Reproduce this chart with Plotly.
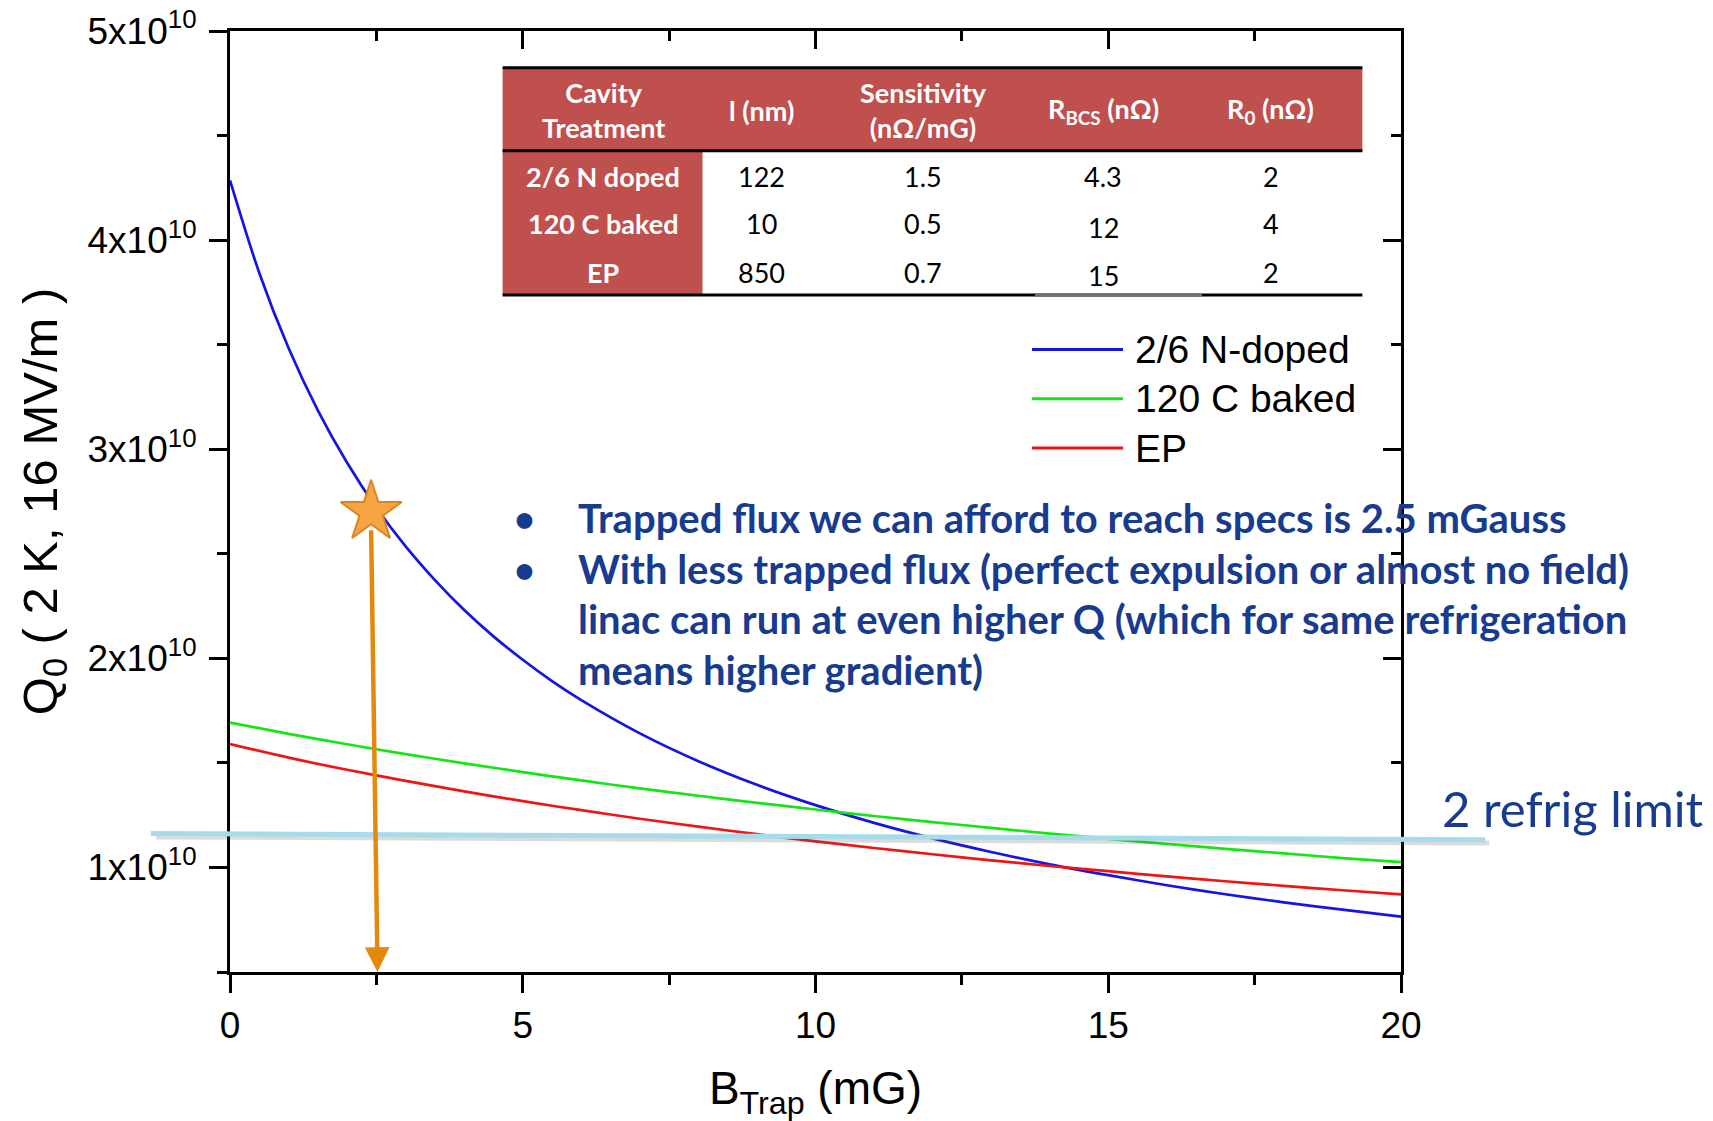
import plotly.graph_objects as go

# ---------------- data ----------------
B_blue = [0, 0.5, 1, 1.5, 2, 2.5, 3, 3.5, 4, 4.5, 5, 5.5, 6, 7, 8, 9, 10,
          11, 12, 13, 14, 15, 16, 17, 18, 19, 20]
B_mG = list(range(0, 21))  # trapped field (mG)
# Q0 values, in units of 1e10
q_ndoped = [4.286, 3.843, 3.484, 3.186, 2.935, 2.720, 2.535, 2.374, 2.231, 2.105,
            1.993, 1.891, 1.800, 1.641, 1.508, 1.395, 1.298, 1.213, 1.139, 1.074,
            1.015, 0.963, 0.915, 0.872, 0.833, 0.798, 0.765]
q_baked = [1.693, 1.639, 1.589, 1.542, 1.498, 1.456, 1.416, 1.378, 1.343, 1.309,
           1.277, 1.246, 1.217, 1.189, 1.162, 1.137, 1.112, 1.089, 1.067, 1.045, 1.025]
q_ep = [1.590, 1.525, 1.467, 1.414, 1.364, 1.317, 1.274, 1.233, 1.195, 1.159,
        1.125, 1.093, 1.063, 1.034, 1.007, 0.982, 0.957, 0.934, 0.912, 0.891, 0.871]
series_names = ["2/6 N-doped", "120 C baked", "EP"]
series_colors = ["#1414e6", "#14e614", "#f01414"]

refrig_limit = [1.162, 1.133]          # 2 refrig limit (x1e10), left / right end
star_point = (2.41, 2.70)              # operating point (mG, x1e10)
arrow_tip = (2.52, 0.5)                # arrow down to B axis

y_tickvals = [1, 2, 3, 4, 5]
y_ticktext = ["1x10<sup>10</sup>", "2x10<sup>10</sup>", "3x10<sup>10</sup>",
              "4x10<sup>10</sup>", "5x10<sup>10</sup>"]
x_tickvals = [0, 5, 10, 15, 20]

# table content
tbl_headers = ["Cavity<br>Treatment", "l (nm)", "Sensitivity<br>(nΩ/mG)",
               "R<sub>BCS</sub> (nΩ)", "R<sub>0</sub> (nΩ)"]
tbl_treatment = ["2/6 N doped", "120 C baked", "EP"]
tbl_l_nm = ["122", "10", "850"]
tbl_sensitivity = ["1.5", "0.5", "0.7"]
tbl_rbcs = ["4.3", "12", "15"]
tbl_r0 = ["2", "4", "2"]

bullets = ["Trapped flux we can afford to reach specs is 2.5 mGauss",
           "With less trapped flux (perfect expulsion or almost no field)",
           "linac can run at even higher Q (which for same refrigeration",
           "means higher gradient)"]
bullet_marks = [True, True, False, False]

E10 = 1e10

# ---------------- geometry helpers ----------------
W, H = 1713, 1121
ML, MR, MT, MB = 230, 312, 31, 149
PW, PH = W - ML - MR, H - MT - MB


def px(x):
    return (x - ML) / PW


def py(y):
    return (H - MB - y) / PH


ARIAL = "Liberation Sans, Arial, sans-serif"
CAL = "Lato, Open Sans, sans-serif"
BLUE_TXT = "#173b8e"
RED_BG = "#c0504d"

fig = go.Figure()

for name, xs, vals, col in zip(series_names, [B_blue, B_mG, B_mG],
                               [q_ndoped, q_baked, q_ep], series_colors):
    fig.add_trace(go.Scatter(
        x=xs, y=[v * E10 for v in vals], mode="lines", name=name,
        line=dict(color=col, width=2.7, shape="spline", smoothing=0.8),
        showlegend=False))

# star marker
fig.add_trace(go.Scatter(
    x=[star_point[0]], y=[star_point[1] * E10], mode="markers", showlegend=False,
    marker=dict(symbol="star", size=46, color="#f7a443",
                line=dict(color="#dc8420", width=2))))

# dummy trace for mirrored axes
fig.add_trace(go.Scatter(x=[0], y=[E10], xaxis="x2", yaxis="y2", mode="markers",
                         marker=dict(opacity=0), showlegend=False, hoverinfo="skip"))

axis_common = dict(showline=True, linewidth=3, linecolor="black", showgrid=False,
                   zeroline=False, tickwidth=3, tickcolor="black", automargin=False)

fig.update_layout(
    width=W, height=H, margin=dict(l=ML, r=MR, t=MT, b=MB, autoexpand=False),
    paper_bgcolor="white", plot_bgcolor="white",
    xaxis=dict(range=[0, 20], tickmode="array", tickvals=x_tickvals,
               ticks="outside", ticklen=18,
               minor=dict(tickmode="linear", tick0=0, dtick=2.5, ticks="outside",
                          ticklen=10, tickwidth=3, tickcolor="black"),
               tickfont=dict(family=ARIAL, size=37, color="black"),
               ticklabelstandoff=1,
               title=dict(text="B<sub>Trap</sub> (mG)",
                          font=dict(family=ARIAL, size=46, color="black"),
                          standoff=27),
               **axis_common),
    yaxis=dict(range=[0.5 * E10, 5 * E10], tickmode="array",
               tickvals=[v * E10 for v in y_tickvals], ticktext=y_ticktext,
               ticks="outside", ticklen=18,
               minor=dict(tickmode="linear", tick0=0, dtick=0.5 * E10,
                          ticks="outside", ticklen=10, tickwidth=3, tickcolor="black"),
               tickfont=dict(family=ARIAL, size=37, color="black"),
               ticklabelstandoff=5,
               title=dict(text="Q<sub>0</sub> ( 2 K, 16 MV/m )",
                          font=dict(family=ARIAL, size=49, color="black"),
                          standoff=15),
               **axis_common),
    xaxis2=dict(range=[0, 20], overlaying="x", side="top", anchor="y",
                tickmode="array", tickvals=x_tickvals, ticks="inside", ticklen=18,
                showticklabels=False,
                minor=dict(tickmode="linear", tick0=0, dtick=2.5, ticks="inside",
                           ticklen=10, tickwidth=3, tickcolor="black"),
                **axis_common),
    yaxis2=dict(range=[0.5 * E10, 5 * E10], overlaying="y", side="right", anchor="x",
                tickmode="array", tickvals=[v * E10 for v in y_tickvals],
                ticks="inside", ticklen=18, showticklabels=False,
                minor=dict(tickmode="linear", tick0=0, dtick=0.5 * E10,
                           ticks="inside", ticklen=10, tickwidth=3, tickcolor="black"),
                **axis_common),
)

shapes = []
# refrigeration limit line with a soft shadow
shapes.append(dict(type="line", xref="paper", yref="y", x0=px(156), x1=px(1489),
                   y0=refrig_limit[0] * E10 - 0.016 * E10,
                   y1=refrig_limit[1] * E10 - 0.016 * E10,
                   line=dict(color="rgba(90,90,90,0.22)", width=5), layer="above"))
shapes.append(dict(type="line", xref="paper", yref="y", x0=px(151), x1=px(1485),
                   y0=refrig_limit[0] * E10, y1=refrig_limit[1] * E10,
                   line=dict(color="#a6dbea", width=5), layer="above"))

# table backgrounds
TX0, TX1, TC1 = 502.6, 1362.4, 702.5
TY0, TYH, TY1 = 67.7, 150.8, 295.0
shapes.append(dict(type="rect", xref="paper", yref="paper", x0=px(TX0), x1=px(TX1),
                   y0=py(TY1), y1=py(TY0), fillcolor="white", line=dict(width=0),
                   layer="above"))
shapes.append(dict(type="rect", xref="paper", yref="paper", x0=px(TX0), x1=px(TX1),
                   y0=py(TYH), y1=py(TY0), fillcolor=RED_BG, line=dict(width=0),
                   layer="above"))
shapes.append(dict(type="rect", xref="paper", yref="paper", x0=px(TX0), x1=px(TC1),
                   y0=py(TY1), y1=py(TYH), fillcolor=RED_BG, line=dict(width=0),
                   layer="above"))
for yy in [TY0, TYH, TY1]:
    shapes.append(dict(type="line", xref="paper", yref="paper", x0=px(TX0), x1=px(TX1),
                       y0=py(yy), y1=py(yy), line=dict(color="black", width=3),
                       layer="above"))
shapes.append(dict(type="line", xref="paper", yref="paper", x0=px(1035), x1=px(1202),
                   y0=py(TY1), y1=py(TY1), line=dict(color="#707070", width=3),
                   layer="above"))

# manual legend lines
leg_y = [349.5, 398.8, 448.0]
for yy, col in zip(leg_y, series_colors):
    shapes.append(dict(type="line", xref="paper", yref="paper", x0=px(1032), x1=px(1123),
                       y0=py(yy), y1=py(yy), line=dict(color=col, width=3),
                       layer="above"))

fig.update_layout(shapes=shapes)

ann = []
# legend texts
for yy, name in zip(leg_y, series_names):
    ann.append(dict(xref="paper", yref="paper", x=px(1133), y=py(yy), text=name,
                    showarrow=False, xanchor="left", yanchor="middle",
                    font=dict(family=ARIAL, size=39, color="black")))

# table texts
col_x = [603, 761.5, 923, 1103.4, 1270.6]
for cx, h in zip(col_x, tbl_headers):
    ann.append(dict(xref="paper", yref="paper", x=px(cx), y=py(110), text="<b>" + h + "</b>",
                    showarrow=False, xanchor="center", yanchor="middle",
                    font=dict(family=CAL, size=27, color="white")))
row_y = [176, 224, 272]
for i, ry in enumerate(row_y):
    ann.append(dict(xref="paper", yref="paper", x=px(col_x[0]), y=py(ry),
                    text="<b>" + tbl_treatment[i] + "</b>", showarrow=False,
                    xanchor="center", yanchor="middle",
                    font=dict(family=CAL, size=27, color="white")))
    for j, col_vals in enumerate([tbl_l_nm, tbl_sensitivity, tbl_rbcs, tbl_r0]):
        off = 3 if (j == 2 and i > 0) else 0
        ann.append(dict(xref="paper", yref="paper", x=px(col_x[j + 1]), y=py(ry + off),
                        text=col_vals[i], showarrow=False, xanchor="center",
                        yanchor="middle",
                        font=dict(family=CAL, size=27, color="black")))

# bullet text
line_y = [518, 569, 619, 670]
for yy, txt, mark in zip(line_y, bullets, bullet_marks):
    if mark:
        ann.append(dict(xref="paper", yref="paper", x=px(524), y=py(yy), text="<b>•</b>",
                        showarrow=False, xanchor="center", yanchor="middle",
                        font=dict(family=CAL, size=36, color=BLUE_TXT)))
    ann.append(dict(xref="paper", yref="paper", x=px(576), y=py(yy), text="<b>" + txt + "</b>",
                    showarrow=False, xanchor="left", yanchor="middle",
                    font=dict(family=CAL, size=40, color=BLUE_TXT)))

# refrig limit label
ann.append(dict(xref="paper", yref="paper", x=px(1440), y=py(808), text="2 refrig limit",
                showarrow=False, xanchor="left", yanchor="middle",
                font=dict(family=CAL, size=49, color=BLUE_TXT)))

# arrow from the star down to the B axis
ann.append(dict(x=arrow_tip[0], y=arrow_tip[1] * E10, xref="x", yref="y",
                ax=star_point[0], ay=(star_point[1] - 0.08) * E10, axref="x", ayref="y",
                text="", showarrow=True, arrowhead=2, arrowsize=1.1, arrowwidth=4.5,
                arrowcolor="#e5890c"))

fig.update_layout(annotations=ann)

fig.write_html("out.html")
